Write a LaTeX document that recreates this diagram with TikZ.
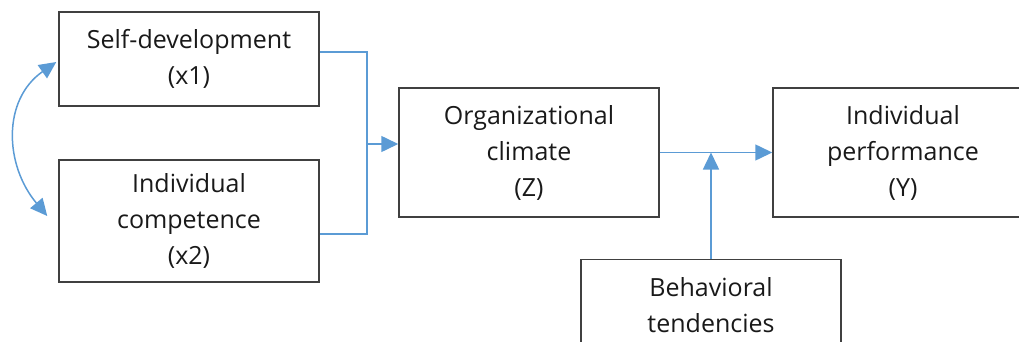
\documentclass[tikz,border=0pt]{standalone}
\usepackage{fontspec}
\setmainfont{Open Sans}
\usetikzlibrary{arrows.meta}
\definecolor{linkblue}{HTML}{5B9BD5}
\definecolor{boxgray}{HTML}{404040}
\begin{document}
\begin{tikzpicture}[x=1pt,y=-1pt,
    varbox/.style={draw=boxgray,line width=1.5pt,minimum width=260pt,inner sep=0pt,
      align=center,text=black!90,font=\fontsize{25}{36}\selectfont},
    link/.style={linkblue,line width=1.5pt},
    tip/.style={-{Triangle[length=17pt,width=16pt]}}]
            \useasboundingbox (0,0) rectangle (1019,342);
            \clip (0,0) rectangle (1019,342);
            \node[varbox,minimum height=94pt] (selfdev) at (189,59) {Self-development\\(x1)};
            \node[varbox,minimum height=122pt] (competence) at (189,221) {Individual\\competence\\(x2)};
            \node[varbox,minimum height=129pt] (climate) at (529,152.5) {Organizational\\climate\\(Z)};
            \node[varbox,minimum height=129pt] (perform) at (903,152.5) {Individual\\performance\\(Y)};
            \node[varbox,minimum height=137pt] (behavior) at (711,328) {Behavioral\\tendencies\\\strut};
            \coordinate (join) at (367,144);
            \draw[link] ([yshift=7pt]selfdev.east) -| (join) |- ([yshift=-13pt]competence.east);
            \draw[link,tip] (join) -- (join -| climate.west);
            \draw[link,tip] (climate) -- (perform);
            \draw[link,tip] (behavior.north) -- (behavior.north |- climate.east);
            \draw[link,{Triangle[length=17pt,width=16pt]}-{Triangle[length=17pt,width=16pt]}]
            ([xshift=-2pt,yshift=-3pt]selfdev.west) to[out=215,in=130,looseness=1.1]
            ([xshift=-11pt,yshift=5pt]competence.west);
        \end{tikzpicture}
\end{document}
